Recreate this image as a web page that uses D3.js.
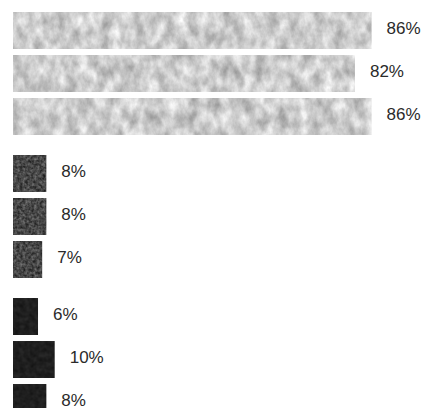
<!DOCTYPE html>
<html>
<head>
<meta charset="utf-8">
<script src="https://cdn.jsdelivr.net/npm/d3@7"></script>
<style>
  html, body { margin: 0; padding: 0; background: #ffffff; }
  svg { display: block; }
</style>
</head>
<body>
<script>
// ---- data ----
const groups = ["A", "B", "C"];
const rowsPerGroup = ["r1", "r2", "r3"];
const valuesA = [86, 82, 86];
const valuesB = [8, 8, 7];
const valuesC = [6, 10, 8];
const labelsA = ["86%", "82%", "86%"];
const labelsB = ["8%", "8%", "7%"];
const labelsC = ["6%", "10%", "8%"];

const seriesValues = [valuesA, valuesB, valuesC];
const seriesLabels = [labelsA, labelsB, labelsC];

// ---- layout ----
const W = 424, H = 408;
const svg = d3.select("body").append("svg").attr("width", W).attr("height", H);

const x = d3.scaleLinear().domain([0, 100]).range([13, 430]);
const yGroup = d3.scaleBand().domain(groups).range([12, 421]).paddingInner(0.14);
const yRow = d3.scaleBand().domain(rowsPerGroup).range([0, yGroup.bandwidth()]).paddingInner(0.14);

// textures
const defs = svg.append("defs");
const tex = [
  { id: "texA", freq: "0.09 0.06", oct: 4, seed: 7, scale: 0.5, base: 0.55 },
  { id: "texB", freq: "0.35 0.35", oct: 2, seed: 3, scale: 0.5, base: 0.03 },
  { id: "texC", freq: "0.2 0.2", oct: 2, seed: 5, scale: 0.12, base: 0.06 }
];
tex.forEach(t => {
  const f = defs.append("filter").attr("id", t.id)
    .attr("x", 0).attr("y", 0).attr("width", 1).attr("height", 1)
    .attr("color-interpolation-filters", "sRGB");
  f.append("feTurbulence").attr("type", "fractalNoise")
    .attr("baseFrequency", t.freq).attr("numOctaves", t.oct).attr("seed", t.seed)
    .attr("result", "n");
  const s = t.scale, b = t.base;
  f.append("feColorMatrix").attr("in", "n").attr("type", "matrix")
    .attr("values", `${s} 0 0 0 ${b}  ${s} 0 0 0 ${b}  ${s} 0 0 0 ${b}  0 0 0 0 1`)
    .attr("result", "g");
  f.append("feComposite").attr("in", "g").attr("in2", "SourceGraphic").attr("operator", "in");
});
const fills = ["#cccccc", "#4a4a4a", "#1c1c1c"];

groups.forEach((g, gi) => {
  const gy = yGroup(g);
  const grp = svg.append("g").attr("transform", `translate(0,${gy})`);
  const data = rowsPerGroup.map((r, ri) => ({ r, v: seriesValues[gi][ri], label: seriesLabels[gi][ri] }));

  grp.selectAll("rect").data(data).enter().append("rect")
    .attr("x", x(0))
    .attr("y", d => yRow(d.r))
    .attr("width", d => x(d.v) - x(0))
    .attr("height", yRow.bandwidth())
    .attr("fill", fills[gi])
    .attr("filter", `url(#${tex[gi].id})`);

  grp.selectAll("text").data(data).enter().append("text")
    .attr("x", d => x(d.v) + 15)
    .attr("y", d => yRow(d.r) + yRow.bandwidth() / 2 - 1)
    .attr("dominant-baseline", "middle")
    .attr("font-family", "'Liberation Sans', Arial, sans-serif")
    .attr("font-size", 17)
    .attr("fill", "#2a2a2a")
    .text(d => d.label);
});
</script>
</body>
</html>
